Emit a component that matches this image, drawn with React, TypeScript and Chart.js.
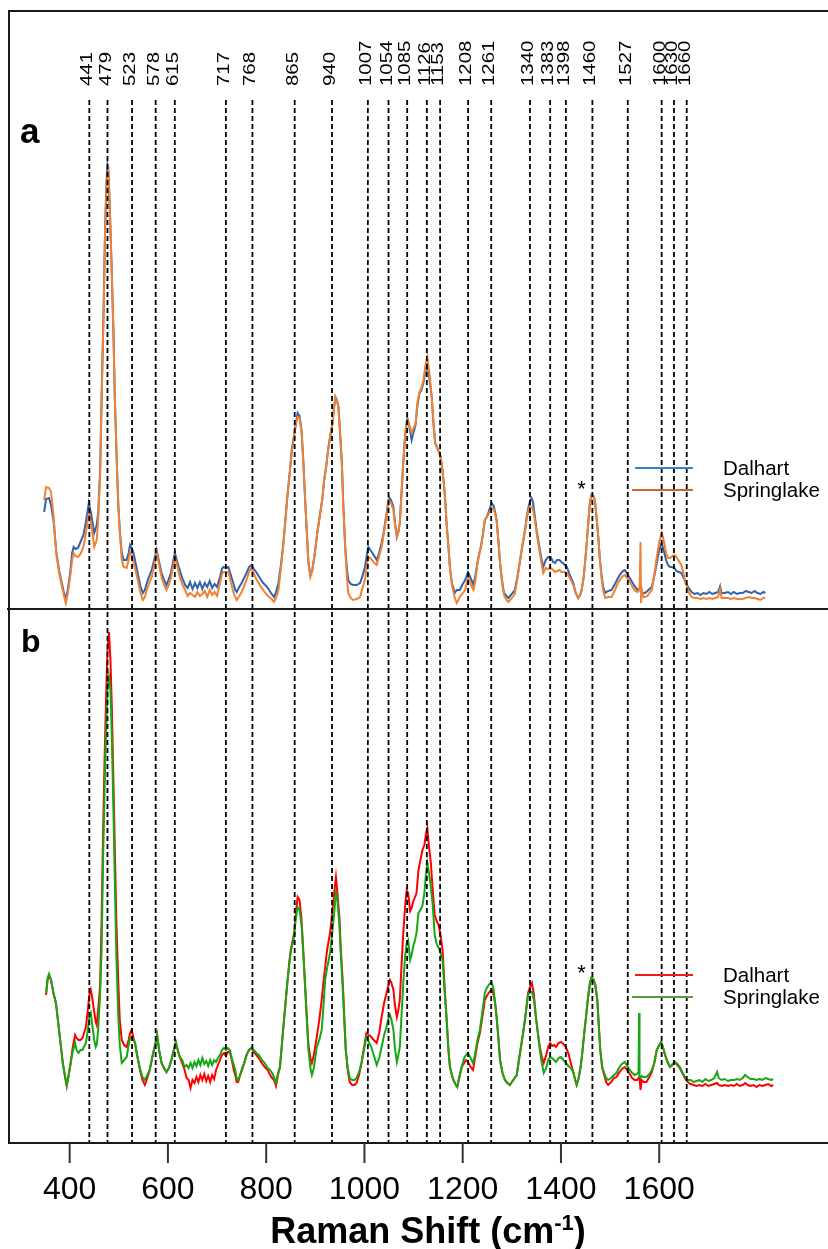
import React, { useEffect, useRef } from "react";
import { Chart, registerables } from "chart.js";

Chart.register(...registerables);

const FONT = "'Liberation Sans', Arial, Helvetica, sans-serif";

// ---------- labels / ticks ----------
const seriesNames = ["Dalhart", "Springlake"];
const peakLabels = [441, 479, 523, 578, 615, 717, 768, 865, 940, 1007, 1054, 1085, 1126, 1153, 1208, 1261, 1340, 1383, 1398, 1460, 1527, 1600, 1630, 1660];
// where the dashed guide of each band is drawn in the figure
const guideShifts = [440, 477, 527, 575, 614, 718, 772, 858, 934, 1007, 1049, 1087, 1127, 1154, 1211, 1258, 1337, 1378, 1410, 1464, 1536, 1605, 1630, 1656];
const xTickValues = [400, 600, 800, 1000, 1200, 1400, 1600];
const xAxisTitle = "Raman Shift (cm";
const xAxisTitleSup = "-1";
const panelNames = ["a", "b"];
const xMin = 276.5;
const xMax = 1968;
const aMax = 598;
const bMax = 534;
const starShift = 1442;
const aStarLevel = 126;
const bStarLevel = 176;

// ---------- panel a (Raman shift, intensity a.u.) ----------
const aWave = [
  348, 352, 358, 362, 367, 373, 379, 384, 388, 392,
  396, 401, 405, 408, 412, 417, 422, 428, 433, 439,
  444, 450, 455, 458, 462, 465, 469, 472, 475, 477,
  479, 482, 485, 489, 492, 496, 499, 502, 506, 510,
  516, 520, 523, 526, 530, 535, 540, 544, 549, 553,
  557, 562, 567, 572, 577, 582, 587, 592, 597, 601,
  606, 610, 614, 619, 624, 629, 635, 640, 645, 650,
  655, 660, 665, 670, 675, 680, 685, 690, 695, 700,
  706, 710, 713, 718, 723, 728, 733, 737, 740, 744,
  750, 755, 760, 765, 770, 775, 781, 787, 794, 800,
  806, 811, 816, 820, 825, 830, 835, 839, 843, 848,
  852, 856, 860, 864, 868, 872, 876, 879, 883, 886,
  890, 894, 899, 904, 910, 914, 918, 922, 926, 930,
  935, 938, 941, 944, 947, 950, 954, 957, 961, 964,
  967, 972, 977, 984, 991, 996, 1001, 1005, 1008, 1012,
  1015, 1020, 1025, 1030, 1035, 1039, 1042, 1046, 1050, 1054,
  1059, 1062, 1066, 1069, 1072, 1075, 1079, 1083, 1087, 1091,
  1096, 1100, 1104, 1108, 1112, 1116, 1120, 1124, 1128, 1132,
  1137, 1140, 1144, 1150, 1154, 1157, 1161, 1164, 1167, 1171,
  1174, 1178, 1184, 1188, 1194, 1199, 1205, 1211, 1216, 1222,
  1226, 1230, 1234, 1237, 1241, 1245, 1249, 1252, 1256, 1259,
  1263, 1266, 1269, 1273, 1276, 1280, 1284, 1289, 1293, 1300,
  1306, 1311, 1316, 1321, 1327, 1330, 1334, 1337, 1340, 1343,
  1347, 1351, 1356, 1360, 1364, 1369, 1374, 1379, 1384, 1388,
  1392, 1397, 1401, 1406, 1412, 1418, 1425, 1430, 1435, 1439,
  1442, 1446, 1449, 1453, 1456, 1459, 1462, 1466, 1469, 1472,
  1476, 1479, 1483, 1486, 1490, 1496, 1503, 1510, 1516, 1521,
  1526, 1530, 1535, 1540, 1546, 1551, 1556, 1560, 1562, 1563,
  1565, 1568, 1571, 1576, 1580, 1585, 1590, 1595, 1600, 1605,
  1609, 1614, 1618, 1622, 1627, 1631, 1635, 1640, 1645, 1650,
  1654, 1660, 1666, 1672, 1678, 1684, 1690, 1696, 1702, 1708,
  1714, 1720, 1724, 1727, 1733, 1740, 1746, 1752, 1758, 1764,
  1770, 1776, 1782, 1788, 1794, 1800, 1806, 1812, 1816,
];
const aDalhart = [
  97, 110, 111, 104, 89, 56, 37, 26, 17, 9,
  19, 36, 56, 62, 60, 61, 67, 74, 87, 106,
  94, 76, 84, 96, 139, 212, 299, 379, 429, 443,
  436, 396, 349, 279, 209, 146, 104, 79, 56, 49,
  49, 56, 64, 61, 56, 44, 32, 23, 16, 19,
  26, 33, 39, 49, 59, 47, 36, 29, 24, 29,
  36, 46, 56, 47, 39, 31, 24, 21, 27, 20,
  26, 21, 27, 20, 26, 22, 28, 21, 25, 22,
  32, 40, 42, 41, 42, 34, 26, 19, 17, 21,
  26, 31, 36, 42, 44, 40, 36, 31, 26, 23,
  19, 15, 12, 17, 26, 44, 66, 89, 112, 137,
  159, 171, 184, 196, 193, 179, 144, 112, 74, 46,
  34, 39, 56, 76, 96, 109, 129, 142, 159, 172,
  186, 201, 212, 209, 202, 179, 146, 104, 62, 42,
  29, 25, 24, 24, 26, 33, 42, 54, 62, 59,
  57, 53, 49, 56, 66, 76, 86, 99, 112, 109,
  102, 87, 72, 77, 86, 112, 146, 174, 191, 184,
  169, 177, 184, 204, 216, 219, 226, 237, 246, 231,
  212, 189, 166, 159, 154, 146, 129, 112, 87, 62,
  42, 26, 16, 19, 19, 24, 29, 37, 31, 24,
  34, 46, 56, 62, 74, 89, 92, 96, 102, 106,
  103, 97, 89, 66, 46, 29, 16, 13, 11, 15,
  19, 31, 46, 62, 79, 91, 102, 108, 111, 107,
  92, 77, 62, 51, 42, 49, 52, 52, 47, 46,
  49, 49, 47, 45, 42, 34, 26, 16, 11, 14,
  19, 31, 46, 69, 89, 106, 114, 113, 109, 94,
  72, 51, 32, 22, 16, 18, 19, 25, 31, 35,
  38, 39, 35, 31, 26, 22, 19, 20, 19, 18,
  17, 16, 16, 18, 20, 22, 33, 46, 59, 66,
  59, 49, 44, 42, 42, 41, 38, 37, 36, 31,
  26, 21, 17, 15, 16, 14, 16, 15, 17, 15,
  16, 17, 23, 16, 16, 17, 15, 17, 15, 16,
  16, 18, 17, 16, 18, 16, 15, 17, 16,
];
const aSpringlake = [
  109, 122, 121, 117, 94, 54, 35, 23, 14, 6,
  15, 32, 49, 56, 53, 52, 55, 62, 76, 96,
  84, 62, 69, 89, 134, 209, 294, 374, 424, 433,
  437, 396, 347, 279, 209, 146, 104, 77, 49, 42,
  41, 49, 57, 54, 46, 37, 26, 16, 9, 12,
  19, 26, 32, 43, 56, 44, 32, 24, 19, 23,
  31, 41, 51, 43, 32, 25, 19, 13, 16, 14,
  12, 17, 13, 15, 18, 12, 19, 14, 17, 13,
  26, 35, 37, 37, 37, 27, 17, 12, 9, 12,
  17, 23, 29, 37, 41, 35, 29, 24, 19, 15,
  12, 10, 7, 11, 19, 41, 64, 87, 111, 136,
  157, 169, 184, 192, 191, 177, 143, 112, 74, 46,
  32, 39, 56, 76, 96, 109, 129, 142, 159, 172,
  186, 201, 212, 209, 202, 179, 146, 102, 59, 34,
  16, 11, 9, 10, 12, 21, 29, 44, 52, 51,
  49, 46, 44, 53, 62, 74, 84, 97, 109, 106,
  99, 85, 72, 77, 86, 112, 146, 176, 189, 184,
  176, 181, 185, 207, 217, 221, 229, 243, 252, 237,
  212, 189, 166, 159, 154, 146, 129, 112, 87, 62,
  41, 24, 11, 6, 12, 15, 19, 31, 25, 19,
  29, 46, 56, 62, 74, 89, 92, 94, 98, 101,
  100, 95, 89, 66, 46, 27, 14, 9, 7, 11,
  15, 29, 46, 62, 79, 89, 99, 103, 102, 100,
  89, 74, 59, 47, 36, 41, 40, 41, 39, 37,
  38, 39, 37, 37, 36, 31, 24, 16, 11, 14,
  19, 31, 46, 69, 89, 106, 114, 113, 109, 94,
  72, 51, 29, 18, 11, 12, 12, 19, 26, 30,
  33, 34, 31, 27, 22, 18, 17, 19, 67, 6,
  19, 12, 12, 13, 16, 19, 34, 52, 67, 76,
  69, 56, 51, 51, 53, 54, 52, 48, 44, 34,
  26, 17, 12, 11, 11, 10, 11, 10, 11, 10,
  11, 12, 20, 11, 11, 11, 10, 11, 10, 10,
  10, 11, 12, 11, 11, 10, 9, 11, 11,
];

// ---------- panel b ----------
const bWave = [
  352, 355, 358, 362, 367, 372, 376, 379, 383, 386,
  390, 394, 398, 402, 406, 411, 414, 418, 422, 426,
  430, 433, 437, 440, 443, 446, 450, 453, 455, 458,
  462, 465, 468, 471, 474, 477, 480, 483, 486, 489,
  492, 495, 499, 502, 506, 511, 516, 520, 523, 526,
  530, 533, 538, 543, 548, 553, 558, 563, 567, 570,
  574, 578, 582, 587, 592, 597, 602, 607, 612, 616,
  620, 624, 629, 634, 638, 642, 646, 650, 654, 658,
  662, 666, 670, 674, 678, 682, 686, 690, 694, 698,
  702, 706, 710, 714, 718, 722, 726, 730, 734, 737,
  740, 743, 747, 751, 756, 760, 765, 770, 775, 780,
  785, 791, 797, 803, 808, 812, 816, 820, 824, 828,
  831, 835, 839, 843, 847, 850, 854, 857, 860, 864,
  868, 872, 876, 879, 883, 886, 890, 893, 897, 903,
  908, 913, 916, 920, 924, 930, 935, 939, 942, 945,
  949, 952, 956, 959, 962, 966, 970, 975, 980, 984,
  989, 994, 999, 1004, 1009, 1014, 1019, 1025, 1030, 1035,
  1040, 1045, 1049, 1052, 1055, 1059, 1062, 1066, 1069, 1072,
  1075, 1079, 1083, 1086, 1089, 1093, 1096, 1099, 1103, 1106,
  1110, 1114, 1118, 1122, 1125, 1128, 1131, 1135, 1139, 1143,
  1147, 1151, 1155, 1159, 1163, 1167, 1171, 1174, 1178, 1181,
  1185, 1189, 1193, 1198, 1203, 1207, 1211, 1216, 1221, 1225,
  1230, 1235, 1240, 1245, 1249, 1253, 1256, 1259, 1263, 1266,
  1269, 1273, 1276, 1281, 1286, 1291, 1296, 1303, 1310, 1316,
  1323, 1328, 1333, 1337, 1341, 1345, 1349, 1353, 1357, 1361,
  1365, 1370, 1374, 1378, 1382, 1386, 1390, 1395, 1400, 1405,
  1410, 1415, 1420, 1425, 1429, 1432, 1436, 1440, 1443, 1447,
  1451, 1455, 1459, 1462, 1466, 1470, 1474, 1477, 1480, 1484,
  1488, 1492, 1496, 1502, 1508, 1513, 1518, 1524, 1530, 1535,
  1540, 1545, 1550, 1555, 1558, 1559, 1560, 1562, 1564, 1568,
  1574, 1580, 1585, 1590, 1595, 1600, 1604, 1608, 1612, 1617,
  1622, 1627, 1632, 1637, 1642, 1647, 1652, 1658, 1664, 1670,
  1676, 1682, 1688, 1694, 1700, 1706, 1712, 1718, 1721, 1727,
  1733, 1740, 1746, 1752, 1758, 1764, 1770, 1775, 1780, 1786,
  1792, 1798, 1804, 1810, 1816, 1822, 1828, 1832,
];
const bDalhart = [
  148, 163, 168, 163, 150, 140, 123, 110, 93, 80,
  68, 57, 68, 80, 95, 108, 105, 103, 103, 105,
  111, 116, 133, 148, 153, 145, 131, 121, 118, 133,
  158, 223, 310, 383, 443, 493, 511, 483, 433, 363,
  293, 223, 160, 123, 103, 98, 96, 103, 110, 113,
  105, 100, 86, 73, 63, 58, 65, 73, 83, 90,
  98, 108, 93, 80, 75, 71, 75, 83, 93, 101,
  93, 86, 80, 73, 65, 63, 55, 63, 60, 66,
  61, 68, 63, 69, 62, 67, 61, 68, 64, 73,
  78, 83, 88, 90, 87, 91, 91, 83, 73, 68,
  61, 61, 68, 73, 81, 88, 93, 95, 91, 88,
  85, 80, 76, 73, 68, 65, 63, 57, 68, 76,
  93, 116, 138, 160, 181, 193, 203, 210, 228, 246,
  243, 223, 188, 160, 123, 98, 85, 80, 88, 106,
  123, 143, 158, 176, 193, 210, 233, 253, 266, 250,
  226, 193, 160, 126, 93, 73, 61, 58, 58, 60,
  68, 80, 95, 110, 108, 106, 103, 100, 110, 126,
  140, 150, 158, 163, 160, 153, 138, 126, 133, 143,
  173, 210, 238, 253, 250, 232, 235, 241, 246, 250,
  273, 283, 293, 298, 308, 315, 298, 281, 253, 228,
  222, 218, 208, 193, 158, 126, 93, 76, 68, 63,
  59, 56, 65, 76, 80, 83, 81, 76, 73, 85,
  100, 110, 126, 143, 147, 150, 152, 153, 148, 140,
  126, 103, 83, 70, 63, 60, 58, 63, 68, 88,
  110, 128, 150, 156, 160, 148, 126, 110, 96, 86,
  80, 88, 96, 100, 97, 98, 96, 100, 101, 99,
  96, 90, 80, 71, 63, 58, 65, 76, 88, 108,
  126, 145, 160, 165, 163, 158, 143, 118, 93, 75,
  68, 61, 58, 61, 65, 66, 70, 74, 76, 73,
  69, 65, 63, 63, 65, 66, 64, 53, 63, 61,
  61, 66, 71, 80, 93, 98, 101, 95, 88, 81,
  76, 78, 81, 78, 75, 70, 65, 61, 59, 58,
  57, 58, 57, 59, 57, 58, 59, 60, 58, 57,
  58, 57, 58, 57, 59, 57, 58, 60, 58, 57,
  58, 56, 58, 57, 58, 59, 57, 58,
];
const bSpringlake = [
  150, 165, 169, 163, 150, 140, 123, 110, 93, 80,
  68, 58, 68, 80, 91, 100, 93, 90, 93, 93,
  97, 100, 113, 126, 130, 118, 103, 96, 98, 113,
  150, 193, 283, 353, 413, 453, 466, 453, 403, 333,
  260, 188, 126, 98, 80, 83, 86, 98, 105, 106,
  103, 100, 86, 75, 66, 63, 68, 73, 83, 90,
  98, 108, 93, 80, 75, 71, 75, 83, 93, 101,
  93, 86, 83, 76, 78, 75, 80, 75, 81, 77,
  83, 78, 85, 79, 82, 77, 83, 78, 83, 81,
  85, 88, 93, 95, 93, 95, 93, 85, 78, 73,
  65, 63, 68, 75, 81, 88, 93, 95, 93, 90,
  88, 83, 80, 75, 73, 70, 66, 60, 70, 76,
  93, 116, 138, 160, 178, 191, 200, 208, 223, 236,
  233, 218, 185, 158, 121, 93, 75, 68, 75, 96,
  103, 113, 133, 163, 175, 190, 213, 233, 250, 243,
  218, 188, 153, 121, 93, 75, 65, 63, 63, 65,
  71, 80, 93, 106, 101, 96, 88, 78, 85, 96,
  108, 116, 125, 128, 123, 113, 95, 81, 88, 96,
  123, 160, 188, 200, 203, 183, 188, 196, 203, 210,
  230, 233, 237, 250, 268, 280, 271, 257, 238, 208,
  199, 195, 190, 183, 153, 126, 93, 76, 68, 63,
  59, 56, 66, 76, 85, 88, 90, 85, 80, 88,
  103, 113, 131, 150, 155, 158, 160, 161, 153, 140,
  126, 103, 83, 70, 63, 60, 58, 63, 68, 88,
  110, 128, 148, 151, 151, 143, 126, 110, 93, 80,
  70, 75, 83, 86, 85, 83, 81, 85, 86, 83,
  80, 77, 75, 71, 63, 58, 65, 76, 88, 108,
  126, 145, 160, 165, 164, 158, 143, 118, 93, 76,
  70, 65, 63, 65, 68, 70, 75, 79, 81, 77,
  73, 70, 68, 69, 71, 130, 66, 65, 67, 66,
  66, 69, 73, 80, 93, 98, 101, 95, 88, 81,
  76, 79, 81, 79, 76, 71, 66, 63, 63, 61,
  62, 63, 61, 64, 62, 63, 65, 71, 65, 63,
  64, 62, 63, 63, 64, 63, 65, 68, 66, 64,
  64, 63, 64, 63, 65, 64, 63, 64,
];

const toPoints = (xs: number[], ys: number[]) => xs.map((x, i) => ({ x, y: ys[i] }));

const overlayPlugin = {
  id: "overlay",
  afterDatasetsDraw(chart: any) {
    const { ctx, chartArea } = chart;
    const sx = chart.scales.x;
    const ya = chart.scales.ya;
    const yb = chart.scales.yb;
    const L = chartArea.left;
    const R = chartArea.right;
    const T = chartArea.top;
    const B = chartArea.bottom;
    ctx.save();

    // dashed guide lines at assigned bands
    ctx.strokeStyle = "#000";
    ctx.lineWidth = 1.8;
    ctx.setLineDash([5, 3]);
    for (const v of guideShifts) {
      const px = sx.getPixelForValue(v);
      ctx.beginPath();
      ctx.moveTo(px, T + 89);
      ctx.lineTo(px, B);
      ctx.stroke();
    }
    ctx.setLineDash([]);

    // frame
    ctx.strokeStyle = "#1a1a1a";
    ctx.lineWidth = 2;
    ctx.beginPath();
    ctx.moveTo(L - 1, T);
    ctx.lineTo(R, T);
    ctx.moveTo(L, T);
    ctx.lineTo(L, B);
    ctx.moveTo(L - 2, ya.bottom);
    ctx.lineTo(R, ya.bottom);
    ctx.moveTo(L - 1, B);
    ctx.lineTo(R, B);
    ctx.stroke();

    // x ticks
    ctx.strokeStyle = "#333";
    for (const t of xTickValues) {
      const px = sx.getPixelForValue(t);
      ctx.beginPath();
      ctx.moveTo(px, B);
      ctx.lineTo(px, B + 20);
      ctx.stroke();
    }
    ctx.fillStyle = "#000";
    ctx.font = `32px ${FONT}`;
    ctx.textAlign = "center";
    ctx.textBaseline = "alphabetic";
    for (const t of xTickValues) {
      ctx.fillText(String(t), sx.getPixelForValue(t), B + 56);
    }

    // axis title with superscript
    const titleFont = `bold 36px ${FONT}`;
    const supFont = `bold 22px ${FONT}`;
    ctx.font = titleFont;
    const w1 = ctx.measureText(xAxisTitle).width;
    const w3 = ctx.measureText(")").width;
    ctx.font = supFont;
    const w2 = ctx.measureText(xAxisTitleSup).width;
    const total = w1 + w2 + w3;
    let tx = 428 - total / 2;
    const ty = B + 100;
    ctx.textAlign = "left";
    ctx.font = titleFont;
    ctx.fillText(xAxisTitle, tx, ty);
    tx += w1;
    ctx.font = supFont;
    ctx.fillText(xAxisTitleSup, tx, ty - 13);
    tx += w2;
    ctx.font = titleFont;
    ctx.fillText(")", tx, ty);

    // peak labels (rotated, slightly wide lettering)
    ctx.font = `17px ${FONT}`;
    ctx.textAlign = "left";
    ctx.textBaseline = "alphabetic";
    guideShifts.forEach((g, i) => {
      const px = sx.getPixelForValue(g);
      ctx.save();
      ctx.translate(px + 3, T + 75);
      ctx.rotate(-Math.PI / 2);
      ctx.scale(1.2, 1);
      ctx.fillText(String(peakLabels[i]), 0, 0);
      ctx.restore();
    });

    // panel letters
    ctx.font = `bold 35px ${FONT}`;
    ctx.fillText(panelNames[0], L + 11, ya.top + 132);
    ctx.font = `bold 32px ${FONT}`;
    ctx.fillText(panelNames[1], L + 12, yb.top + 43);

    // asterisks
    ctx.font = `22px ${FONT}`;
    ctx.textAlign = "center";
    const sxp = sx.getPixelForValue(starShift);
    ctx.fillText("*", sxp, ya.getPixelForValue(aStarLevel) + 13);
    ctx.fillText("*", sxp, yb.getPixelForValue(bStarLevel) + 13);

    // legends
    const legends = [
      { top: ya.top, colors: ["#2f86d6", "#c9682a"], rows: [457, 479] },
      { top: yb.top, colors: ["#f01a1a", "#5a9e3c"], rows: [366, 388] },
    ];
    ctx.font = `20.5px ${FONT}`;
    ctx.textAlign = "left";
    ctx.textBaseline = "middle";
    ctx.lineWidth = 2;
    for (const lg of legends) {
      lg.rows.forEach((r, i) => {
        const y = lg.top + r;
        ctx.strokeStyle = lg.colors[i];
        ctx.beginPath();
        ctx.moveTo(i === 0 ? 635 : 632, y);
        ctx.lineTo(693, y);
        ctx.stroke();
        ctx.fillStyle = "#000";
        ctx.fillText(seriesNames[i], 723, y + 1);
      });
    }
    ctx.restore();
  },
};

export default function App() {
  const ref = useRef<HTMLCanvasElement>(null);
  useEffect(() => {
    const canvas = ref.current;
    if (!canvas) return;
    const mk = (label: string, xs: number[], ys: number[], color: string, axis: string, order: number) => ({
      label,
      data: toPoints(xs, ys),
      borderColor: color,
      backgroundColor: color,
      borderWidth: 2,
      pointRadius: 0,
      tension: 0,
      fill: false,
      yAxisID: axis,
      order,
    });
    const chart = new Chart(canvas, {
      type: "line",
      data: {
        datasets: [
          mk(seriesNames[0], aWave, aDalhart, "#3560aa", "ya", 1),
          mk(seriesNames[1], aWave, aSpringlake, "#ef8333", "ya", 0),
          mk(seriesNames[0], bWave, bDalhart, "#ff0000", "yb", 1),
          mk(seriesNames[1], bWave, bSpringlake, "#14a814", "yb", 0),
        ] as any,
      },
      options: {
        animation: false,
        responsive: false,
        devicePixelRatio: 1,
        layout: { padding: { left: 9, top: 11, right: 0, bottom: 106 } },
        plugins: { legend: { display: false }, tooltip: { enabled: false } },
        events: [],
        scales: {
          x: { type: "linear", min: xMin, max: xMax, display: false },
          ya: {
            type: "linear",
            position: "left",
            stack: "panels",
            stackWeight: aMax,
            weight: 2,
            min: 0,
            max: aMax,
            display: false,
          },
          yb: {
            type: "linear",
            position: "left",
            stack: "panels",
            stackWeight: bMax,
            weight: 1,
            min: 0,
            max: bMax,
            display: false,
          },
        } as any,
      },
      plugins: [overlayPlugin],
    });
    return () => chart.destroy();
  }, []);
  return (
    <div
      style={{
        position: "absolute",
        left: 0,
        top: 0,
        width: 828,
        height: 1249,
        overflow: "hidden",
        background: "#fff",
      }}
    >
      <canvas ref={ref} width={840} height={1249} style={{ display: "block", width: 840, height: 1249 }} />
    </div>
  );
}
